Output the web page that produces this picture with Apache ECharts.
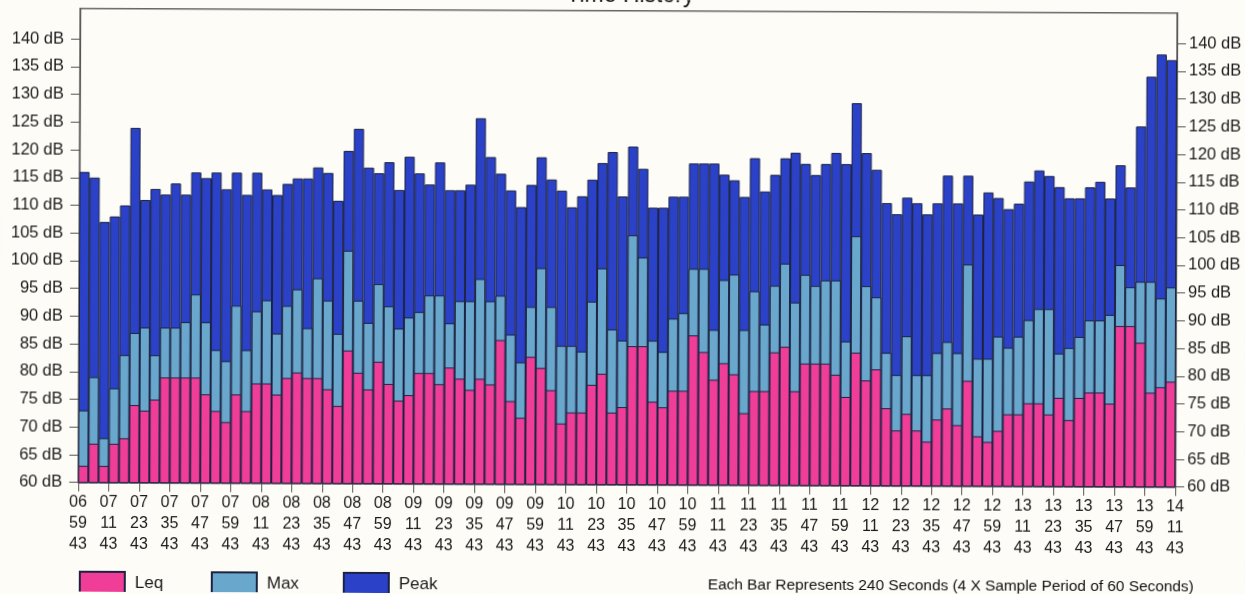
<!DOCTYPE html>
<html>
<head>
<meta charset="utf-8">
<title>Time History</title>
<script src="https://cdn.jsdelivr.net/npm/echarts@6/dist/echarts.min.js"></script>
<style>
  html, body { margin: 0; padding: 0; background: #fdfcf7; overflow: hidden; }
  /* the source is a slightly tilted scan */
  #chart { width: 1245px; height: 594px; transform: rotate(0.24deg); }
</style>
</head>
<body>
<div id="chart"></div>
<script>
// time labels, one every 3 bars (each bar = 240 s)
const tickLabels = [
  '06:59:43', '07:11:43', '07:23:43', '07:35:43', '07:47:43', '07:59:43',
  '08:11:43', '08:23:43', '08:35:43', '08:47:43', '08:59:43', '09:11:43',
  '09:23:43', '09:35:43', '09:47:43', '09:59:43', '10:11:43', '10:23:43',
  '10:35:43', '10:47:43', '10:59:43', '11:11:43', '11:23:43', '11:35:43',
  '11:47:43', '11:59:43', '12:11:43', '12:23:43', '12:35:43', '12:47:43',
  '12:59:43', '13:11:43', '13:23:43', '13:35:43', '13:47:43', '13:59:43',
  '14:11:43'
]
const yTicks = [60, 65, 70, 75, 80, 85, 90, 95, 100, 105, 110, 115, 120, 125, 130, 135, 140]

// dB per bar
const peak = [
  116, 115, 107, 108, 110, 124, 111, 113, 112, 114,
  112, 116, 115, 116, 113, 116, 112, 116, 113, 112,
  114, 115, 115, 117, 116, 111, 120, 124, 117, 116,
  118, 113, 119, 116, 114, 118, 113, 113, 114, 126,
  119, 116, 113, 110, 114, 119, 115, 113, 110, 112,
  115, 118, 120, 112, 121, 117, 110, 110, 112, 112,
  118, 118, 118, 116, 115, 112, 119, 113, 116, 119,
  120, 118, 116, 118, 120, 118, 129, 120, 117, 111,
  109, 112, 111, 109, 111, 116, 111, 116, 109, 113,
  112, 110, 111, 115, 117, 116, 114, 112, 112, 114,
  115, 112, 118, 114, 125, 134, 138, 137
]
const maxLevel = [
  73, 79, 68, 77, 83, 87, 88, 83, 88, 88,
  89, 94, 89, 84, 82, 92, 84, 91, 93, 87,
  92, 95, 88, 97, 93, 87, 102, 93, 89, 96,
  92, 88, 90, 91, 94, 94, 89, 93, 93, 97,
  93, 94, 87, 82, 92, 99, 92, 85, 85, 84,
  93, 99, 88, 86, 105, 101, 86, 84, 90, 91,
  99, 99, 88, 97, 98, 88, 95, 89, 96, 100,
  93, 98, 96, 97, 97, 86, 105, 96, 94, 84,
  80, 87, 80, 80, 84, 86, 84, 100, 83, 83,
  87, 85, 87, 90, 92, 92, 84, 85, 87, 90,
  90, 91, 100, 96, 97, 97, 94, 96
]
const leq = [
  63, 67, 63, 67, 68, 74, 73, 75, 79, 79,
  79, 79, 76, 73, 71, 76, 73, 78, 78, 76,
  79, 80, 79, 79, 77, 74, 84, 80, 77, 82,
  78, 75, 76, 80, 80, 78, 81, 79, 77, 79,
  78, 86, 75, 72, 83, 81, 77, 71, 73, 73,
  78, 80, 73, 74, 85, 85, 75, 74, 77, 77,
  87, 84, 79, 82, 80, 73, 77, 77, 84, 85,
  77, 82, 82, 82, 80, 76, 84, 79, 81, 74,
  70, 73, 70, 68, 72, 74, 71, 79, 69, 68,
  70, 73, 73, 75, 75, 73, 76, 72, 76, 77,
  77, 75, 89, 89, 86, 77, 78, 79
]

const FONT = 'Liberation Sans, Arial, sans-serif'
const EDGE = '#1b2340'

// bar i sits in the slot [i, i+1] of the time axis
const toPoints = arr => arr.map((v, i) => [i + 0.5, v])

const barSeries = (name, color, data) => ({
  name: name,
  type: 'bar',
  data: toPoints(data),
  startValue: 60,
  barWidth: '100%',
  barGap: '-100%',
  silent: true,
  itemStyle: {
    color: color,
    borderColor: EDGE,
    borderWidth: 1
  }
})

const yAxisBase = {
  type: 'value',
  min: 60,
  max: 145.5,
  interval: 5,
  splitLine: {show: false},
  axisLine: {show: true, lineStyle: {color: '#555', width: 1.2}},
  axisTick: {show: true, length: 9, customValues: yTicks, lineStyle: {color: '#555'}},
  axisLabel: {
    customValues: yTicks,
    formatter: '{value} dB',
    color: '#1a1a1a',
    fontFamily: FONT,
    fontSize: 16.5
  }
}

// one legend per entry so the swatches sit on a fixed pitch
const legendAt = (name, left) => ({
  data: [name],
  left: left,
  top: 568,
  icon: 'rect',
  itemWidth: 45,
  itemHeight: 22,
  selectedMode: false,
  textStyle: {
    fontFamily: FONT,
    fontSize: 17,
    color: '#1a1a1a',
    padding: [0, 0, 0, 5]
  }
})

const chart = echarts.init(document.getElementById('chart'))
chart.setOption({
  backgroundColor: '#fdfcf7',
  animation: false,
  grid: {
    left: 79,
    right: 69,
    top: 10.7,
    bottom: 109.3,
    show: true,
    borderColor: '#666',
    borderWidth: 1.5,
    backgroundColor: 'transparent'
  },
  graphic: [
    {
      type: 'text',
      left: 565,
      top: -16,
      style: {text: 'Time History', font: '23px ' + FONT, fill: '#111'}
    },
    {
      type: 'text',
      left: 709,
      top: 577,
      style: {
        text: 'Each Bar Represents 240 Seconds (4 X Sample Period of 60 Seconds)',
        font: '15.4px ' + FONT,
        fill: '#111'
      }
    }
  ],
  legend: [
    legendAt('Leq', 75),
    legendAt('Max', 207),
    legendAt('Peak', 339)
  ],
  xAxis: {
    type: 'value',
    min: 0,
    max: 108,
    interval: 3,
    splitLine: {show: false},
    axisLine: {lineStyle: {color: '#555', width: 1.2}},
    axisTick: {length: 9, lineStyle: {color: '#555'}},
    axisLabel: {
      margin: 9,
      color: '#1a1a1a',
      fontFamily: FONT,
      fontSize: 16,
      lineHeight: 21,
      hideOverlap: false,
      formatter: v => tickLabels[Math.round(v / 3)].split(':').join('\n')
    }
  },
  yAxis: [
    Object.assign({}, yAxisBase, {position: 'left', axisLabel: Object.assign({}, yAxisBase.axisLabel, {margin: 16})}),
    Object.assign({}, yAxisBase, {position: 'right', axisLabel: Object.assign({}, yAxisBase.axisLabel, {margin: 12})})
  ],
  series: [
    barSeries('Peak', '#2a41c8', peak),
    barSeries('Max', '#6aa7cd', maxLevel),
    barSeries('Leq', '#ef3d98', leq)
  ]
})
</script>
</body>
</html>
